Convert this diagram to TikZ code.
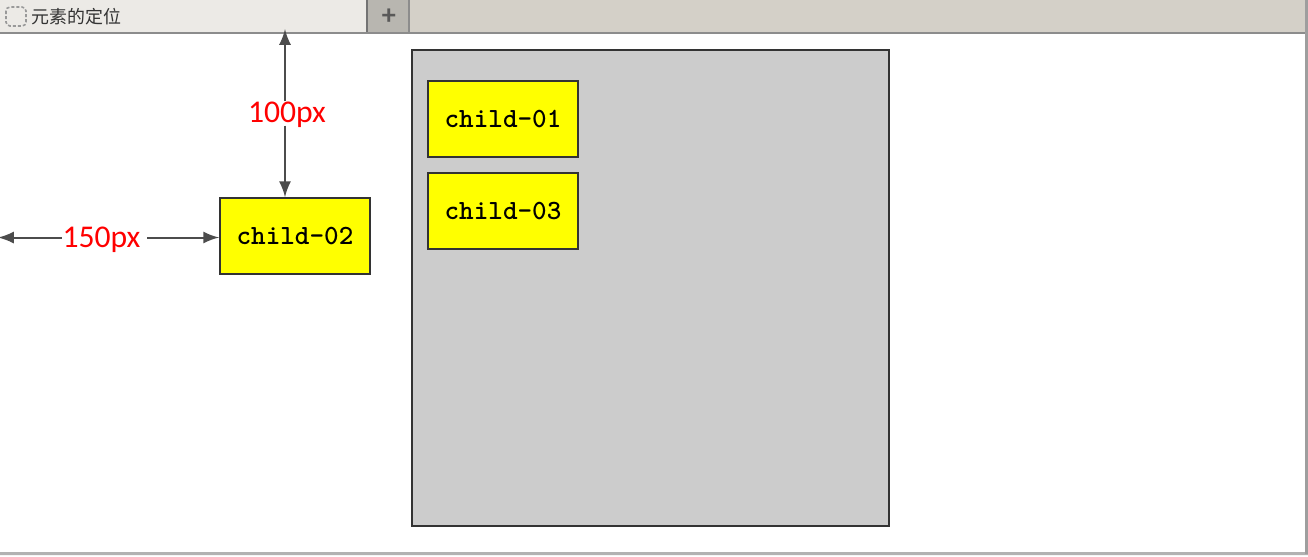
\documentclass[tikz,border=0pt]{standalone}
\usepackage{fontspec}
\setmainfont{Carlito}
\newfontfamily\cjkfont{Noto Sans CJK SC}
\usetikzlibrary{positioning}
\definecolor{barbeige}{RGB}{212,208,200}
\definecolor{tabgrey}{RGB}{236,234,230}
\definecolor{plusgrey}{RGB}{184,182,176}
\definecolor{puryellow}{RGB}{255,255,0}
\tikzset{
	box child/.style={
		draw=black!80, fill=puryellow, line width=0.17mm, minimum width=1.5cm, minimum height=0.76cm,
		inner sep=0pt, font=\ttfamily\bfseries\fontsize{7.9}{9}\selectfont
	},
	dim label/.style={
		text=red, inner sep=0pt, font=\fontsize{9}{10}\selectfont
	},
	dim arrow/.style={
		->, >=latex, draw=black!70, line width=0.2mm
	}
}

\begin{document}
\begin{tikzpicture}[x=0.01cm, y=-0.01cm]
		\useasboundingbox (0, 0) rectangle (1308, 556);
		\fill[white] (0, 0) rectangle (1308, 556);

		% browser bar
		\fill[black!30!white] (0, 552) rectangle (1308, 554.5);
		\fill[black!4!white] (0, 554.5) rectangle (1308, 556);
		\fill[barbeige] (0, 0) rectangle (1308, 33);
		\fill[tabgrey] (0, 0) rectangle (367, 33);
		\fill[plusgrey] (368, 0) rectangle (409, 33);
		\draw[black!55, line width=0.2mm] (367, 0) -- (367, 33);
		\draw[black!45, line width=0.2mm] (409, 0) -- (409, 33);
		\draw[black!45, line width=0.2mm] (0, 33) -- (1308, 33);
		\fill[black!38!white] (1304.5, 0) rectangle (1308, 554);
		\draw[black!40, dash pattern=on 0.3mm off 0.2mm, rounded corners=0.4mm, line width=0.16mm] (6, 7) rectangle (26, 26);
		\node[anchor=west, inner sep=0pt, font=\cjkfont\fontsize{5.1}{6}\selectfont, text=black!80] (tabtitle) at (31, 17) {元素的定位};
		\node[inner sep=0pt, font=\bfseries\fontsize{8}{8}\selectfont, text=black!65] (plus) at (389, 17) {+};

		% grey parent
		\draw[draw=black!80, fill=black!20, line width=0.17mm] (412, 50) rectangle (889, 526);

		\node[box child] (child01) at (503, 119) {child-01};
		\node[box child, below=0.14cm of child01] (child03) {child-03};
		\node[box child] (child02) at (295, 236) {child-02};

		% dimension arrows
		\coordinate (topedge) at (285, 29);
		\coordinate (leftedge) at (-2, 237.5);
		\node[dim label] (label100) at (287, 115) {100px};
		\node[dim label] (label150) at (101.5, 240) {150px};

		\draw[dim arrow] (label100.north -| topedge) -- (topedge);
		\draw[dim arrow] ([yshift=0.03cm]label100.south -| topedge) -- (topedge |- child02.north);
		\draw[dim arrow] (label150.west |- leftedge) -- (leftedge);
		\draw[dim arrow] ([xshift=0.06cm]label150.east |- leftedge) -- (child02.west |- leftedge);
	\end{tikzpicture}
\end{document}
